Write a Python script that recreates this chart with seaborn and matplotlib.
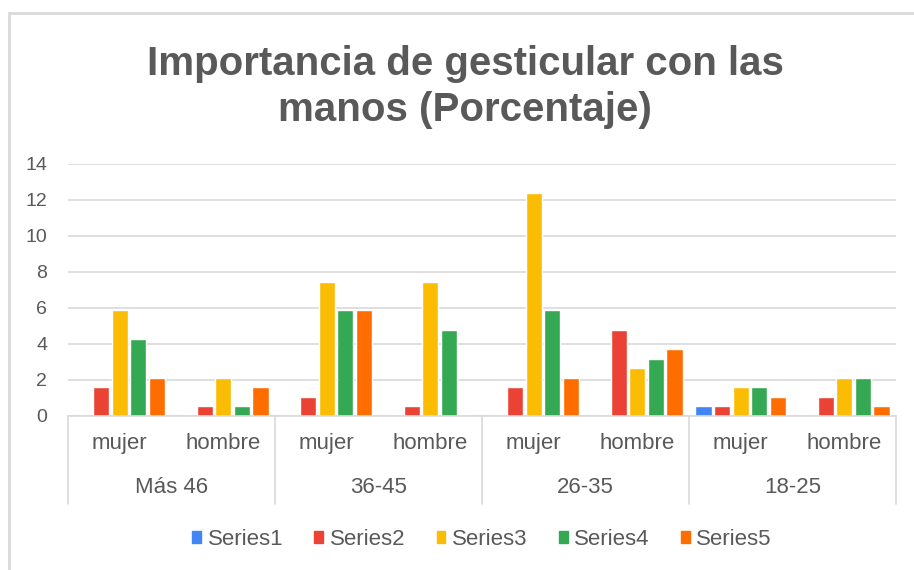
import pandas as pd
import matplotlib.pyplot as plt
import matplotlib.patches as mpatches
import seaborn as sns

# Chart data
age_groups = ["Más 46", "36-45", "26-35", "18-25"]
genders = ["mujer", "hombre"]
series = ["Series1", "Series2", "Series3", "Series4", "Series5"]

# one list per series, order: Más46 mujer, Más46 hombre, 36-45 mujer, ... 18-25 hombre
series1 = [0, 0, 0, 0, 0, 0, 0.53, 0]
series2 = [1.6, 0.53, 1.06, 0.53, 1.6, 4.79, 0.53, 1.06]
series3 = [5.9, 2.13, 7.45, 7.45, 12.4, 2.66, 1.6, 2.13]
series4 = [4.26, 0.53, 5.9, 4.79, 5.9, 3.19, 1.6, 2.13]
series5 = [2.13, 1.6, 5.9, 0, 2.13, 3.72, 1.06, 0.53]

colors = ["#4285F4", "#EA4335", "#FBBC04", "#34A853", "#FF6D01"]
text_color = "#595959"
grid_color = "#d9d9d9"

sns.set_theme(style="white")
plt.rcParams["font.family"] = ["Liberation Sans", "DejaVu Sans"]

# Long table for seaborn
cats = [f"{a}|{g}" for a in age_groups for g in genders]
rows = []
for name, vals in zip(series, [series1, series2, series3, series4, series5]):
    for c, v in zip(cats, vals):
        rows.append({"cat": c, "serie": name, "value": v})
df = pd.DataFrame(rows)

fig = plt.figure(figsize=(9.14, 5.70), dpi=100)
ax = fig.add_axes([68 / 914, 1 - 416 / 570, (896 - 68) / 914, (416 - 164) / 570])

sns.barplot(data=df, x="cat", y="value", hue="serie", order=cats, hue_order=series,
            palette=colors, width=0.9, gap=0.14, ax=ax, legend=False, saturation=1)

# Axes styling
ax.set_ylim(0, 14)
ax.set_xlim(-0.5, len(cats) - 0.5)
ax.set_yticks(range(0, 15, 2))
ax.yaxis.grid(True, color=grid_color, linewidth=1.2)
ax.set_axisbelow(True)
for s in ["top", "right", "left"]:
    ax.spines[s].set_visible(False)
ax.spines["bottom"].set_color(grid_color)
ax.spines["bottom"].set_linewidth(1.2)
ax.set_xlabel("")
ax.set_ylabel("")
ax.tick_params(axis="y", length=0, pad=15, labelsize=14, labelcolor=text_color)
ax.set_xticks(range(len(cats)))
ax.set_xticklabels([c.split("|")[1] for c in cats])
ax.tick_params(axis="x", length=0, pad=12, labelsize=16, labelcolor=text_color)

# Second level of the category axis
trans = ax.get_xaxis_transform()
for i, grp in enumerate(age_groups):
    ax.text(2 * i + 0.5, -0.285, grp, transform=trans, ha="center", va="center",
            fontsize=16, color=text_color)
for x in [-0.5, 1.5, 3.5, 5.5, 7.5]:
    ax.plot([x, x], [0, -0.35], transform=trans, color=grid_color, linewidth=1.2,
            clip_on=False)

# Legend
handles = [mpatches.Patch(color=c, label=s) for c, s in zip(colors, series)]
ax.legend(handles=handles, loc="center", bbox_to_anchor=(0.5, -0.49), ncol=5,
          frameon=False, fontsize=16, handlelength=0.4, handleheight=0.4,
          handletextpad=0.3, columnspacing=1.4, labelcolor=text_color)

# Title
fig.text(465 / 914, 1 - 87 / 570, "Importancia de gesticular con las\nmanos (Porcentaje)",
         ha="center", va="center", fontsize=29, fontweight="bold", color=text_color,
         linespacing=1.25)

# Chart frame
fig.patches.append(mpatches.Rectangle((9 / 914, -0.05), 1.1, 1 - 13 / 570 + 0.05,
                                      transform=fig.transFigure, fill=False,
                                      edgecolor=grid_color, linewidth=2))

fig.savefig("out.png", dpi=100)
